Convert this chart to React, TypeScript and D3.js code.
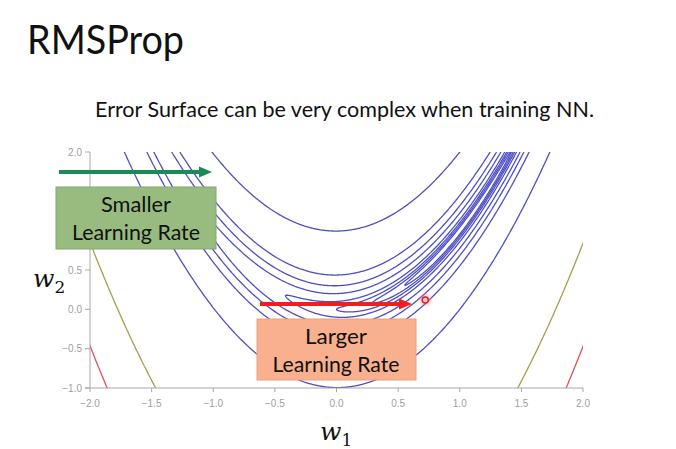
import React from "react";
import * as d3 from "d3";

const W = 676;
const H = 449;

// Rosenbrock error surface parameters
const surfaceA = [1];
const surfaceB = [100];
const levels = [0.2, 0.5, 1, 2, 5, 10, 20, 100, 1000, 2000];
const levelColors = ["#4d4dc4", "#4d4dc4", "#4d4dc4", "#4d4dc4", "#4d4dc4", "#4d4dc4", "#4d4dc4", "#4d4dc4", "#a3a04a", "#e25050"];
const xTicks = [-2, -1.5, -1, -0.5, 0, 0.5, 1, 1.5, 2];
const yTicks = [-1, -0.5, 0, 0.5, 1, 1.5, 2];
const xDomain = [-2, 2];
const yDomain = [-1, 2];

const titleText = ["RMSProp"];
const subtitleText = ["Error Surface can be very complex when training NN."];
const smallBox = ["Smaller", "Learning Rate"];
const largeBox = ["Larger", "Learning Rate"];
const pointW = [[0.72, 0.12]];

function f(x: number, y: number) {
  const a = surfaceA[0], b = surfaceB[0];
  return (a - x) * (a - x) + b * (y - x * x) * (y - x * x);
}

export default function App() {
  const L = 90, R = 583, T = 152, B = 388;
  const xs = d3.scaleLinear().domain(xDomain).range([L, R]);
  const ys = d3.scaleLinear().domain(yDomain).range([B, T]);

  const gx0 = -2.25, gx1 = 2.25, gy0 = -1.25, gy1 = 2.25;
  const nx = 700, ny = 540;
  const dx = (gx1 - gx0) / (nx - 1), dy = (gy1 - gy0) / (ny - 1);
  const values = new Float64Array(nx * ny);
  for (let j = 0; j < ny; j++) {
    const y = gy0 + j * dy;
    for (let i = 0; i < nx; i++) {
      values[j * nx + i] = f(gx0 + i * dx, y);
    }
  }
  const contours = d3.contours().size([nx, ny]).thresholds(levels)(Array.from(values));
  const toPath = (mp: any) => {
    let s = "";
    for (const poly of mp.coordinates) {
      for (const ring of poly) {
        s += "M" + ring.map((p: number[]) => `${xs(gx0 + (p[0] - 0.5) * dx).toFixed(2)},${ys(gy0 + (p[1] - 0.5) * dy).toFixed(2)}`).join("L") + "Z";
      }
    }
    return s;
  };

  const axisColor = "#a8a8a8";
  const tickFont = "Liberation Sans, Arial, sans-serif";
  const slideFont = "Lato, 'Open Sans', sans-serif";
  const fmt = d3.format(".1f");

  // green box region (labels under it are hidden in the original)
  const gb = { x: 56, y: 187, w: 160, h: 62 };
  const hidden = (yy: number) => yy > gb.y - 4 && yy < gb.y + gb.h + 4;

  const [px, py] = pointW[0];

  return (
    <svg width={W} height={H} style={{ position: "absolute", left: 0, top: 0, background: "#fff" }}>
      <defs>
        <clipPath id="plotClip">
          <rect x={L} y={T} width={R - L} height={B - T} />
        </clipPath>
        <radialGradient id="glow">
          <stop offset="0%" stopColor="#ff6060" stopOpacity="0.7" />
          <stop offset="100%" stopColor="#ff8080" stopOpacity="0" />
        </radialGradient>
      </defs>
      <rect x={0} y={0} width={W} height={H} fill="#fff" />
      <text x={27} y={54} fontFamily={slideFont} fontSize={41} fill="#111" textLength={157} lengthAdjust="spacingAndGlyphs">{titleText[0]}</text>
      <text x={95} y={117} fontFamily={slideFont} fontSize={22} fill="#111" textLength={499} lengthAdjust="spacingAndGlyphs">{subtitleText[0]}</text>

      <g clipPath="url(#plotClip)">
        {contours.map((c, k) => (
          <path key={k} d={toPath(c)} fill="none" stroke={levelColors[k]} strokeWidth={1.3} />
        ))}
      </g>

      {/* axes */}
      <line x1={L} x2={L} y1={T} y2={B} stroke={axisColor} strokeWidth={1} />
      <line x1={L - 5} x2={R} y1={B} y2={B} stroke={axisColor} strokeWidth={1} />
      {yTicks.map((t) => (
        <g key={"y" + t}>
          <line x1={L - 5} x2={L} y1={ys(t)} y2={ys(t)} stroke={axisColor} />
          {!hidden(ys(t)) && (
            <text x={L - 8} y={ys(t) + 3.5} textAnchor="end" fontFamily={tickFont} fontSize={10} fill="#a0a0a0">{fmt(t)}</text>
          )}
        </g>
      ))}
      {xTicks.map((t) => (
        <g key={"x" + t}>
          <line x1={xs(t)} x2={xs(t)} y1={B} y2={B + 4} stroke={axisColor} />
          <text x={xs(t)} y={407} textAnchor="middle" fontFamily={tickFont} fontSize={10} fill="#a0a0a0">{fmt(t)}</text>
        </g>
      ))}

      {/* axis labels */}
      <text x={33} y={287} fontFamily="'DejaVu Serif', serif" fontStyle="italic" fontSize={25} fill="#111">w<tspan fontSize={17} dy={6} fontStyle="normal">2</tspan></text>
      <text x={320} y={440} fontFamily="'DejaVu Serif', serif" fontStyle="italic" fontSize={25} fill="#111">w<tspan fontSize={17} dy={6} fontStyle="normal">1</tspan></text>

      {/* green arrow */}
      <line x1={59} x2={200} y1={172} y2={172} stroke="#1b8a57" strokeWidth={4} />
      <path d="M199,166.5 L212,172 L199,177.5 Z" fill="#1b8a57" />
      {/* green box */}
      <rect x={gb.x} y={gb.y} width={gb.w} height={gb.h} fill="#98bb80" stroke="#84a86c" strokeWidth={1} />
      <text x={136} y={212} textAnchor="middle" fontFamily={slideFont} fontSize={21} fill="#111" textLength={70} lengthAdjust="spacingAndGlyphs">{smallBox[0]}</text>
      <text x={136} y={240} textAnchor="middle" fontFamily={slideFont} fontSize={21} fill="#111" textLength={128} lengthAdjust="spacingAndGlyphs">{smallBox[1]}</text>

      {/* red arrow */}
      <line x1={260} x2={400} y1={304} y2={304} stroke="#f41c1c" strokeWidth={4} />
      <path d="M399,298.5 L412,304 L399,309.5 Z" fill="#f41c1c" />
      <circle cx={xs(px)} cy={ys(py)} r={8} fill="url(#glow)" />
      <circle cx={xs(px)} cy={ys(py)} r={3} fill="#ffd0d0" stroke="#e02020" strokeWidth={1.5} />
      {/* orange box */}
      <rect x={257} y={319} width={159} height={61} fill="#f8b08e" stroke="#eaa07c" strokeWidth={1} />
      <text x={336} y={344} textAnchor="middle" fontFamily={slideFont} fontSize={21} fill="#111" textLength={62} lengthAdjust="spacingAndGlyphs">{largeBox[0]}</text>
      <text x={336} y={372} textAnchor="middle" fontFamily={slideFont} fontSize={21} fill="#111" textLength={127} lengthAdjust="spacingAndGlyphs">{largeBox[1]}</text>
    </svg>
  );
}
